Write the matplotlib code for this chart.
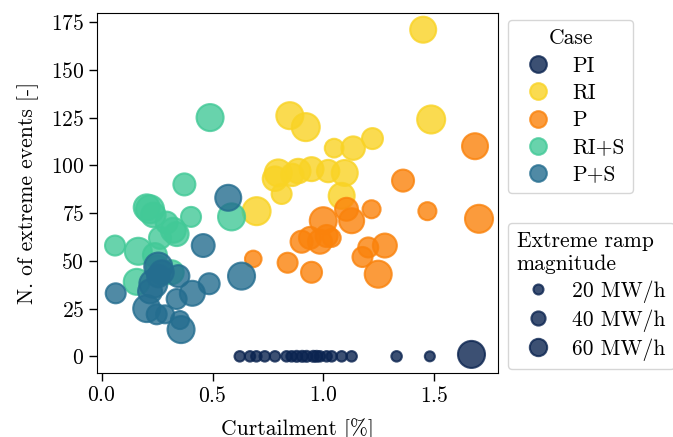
import matplotlib
matplotlib.use('Agg')
import matplotlib.pyplot as plt
from matplotlib.lines import Line2D
import numpy as np

plt.rcParams['font.family'] = 'serif'
plt.rcParams['font.serif'] = ['cmr10']
plt.rcParams['axes.formatter.use_mathtext'] = True
plt.rcParams['font.size'] = 15.5

# curtailment [%], number of extreme events [-], extreme ramp magnitude [MW/h]
pi_x = [0.623, 0.669, 0.698, 0.736, 0.782, 0.834, 0.857, 0.880, 0.905, 0.925,
        0.955, 0.970, 0.985, 1.015, 1.038, 1.083, 1.128, 1.331, 1.481, 1.669]
pi_y = [0, 0, 0, 0, 0, 0, 0, 0, 0, 0, 0, 0, 0, 0, 0, 0, 0, 0, 0, 1]
pi_m = [22, 22, 22, 22, 22, 22, 22, 24, 24, 24, 24, 24, 22, 22, 22, 22, 22, 22, 20, 146]

ri_x = [1.451, 1.487, 1.222, 1.135, 1.049, 0.921, 0.849, 0.797, 0.782, 0.887,
        0.947, 1.022, 1.097, 0.812, 1.083, 0.699, 0.860]
ri_y = [171, 124, 114, 109, 109, 120, 126, 96, 93, 97,
        98, 97, 96, 85, 84, 76, 95]
ri_m = [135, 157, 88, 110, 70, 157, 146, 146, 120, 120,
        115, 100, 135, 80, 135, 157, 100]

p_x = [1.685, 1.360, 1.703, 1.470, 1.218, 1.105, 1.128, 1.000, 1.015, 1.038,
       0.985, 0.940, 0.902, 1.278, 1.203, 1.177, 1.248, 0.947, 0.839, 0.684]
p_y = [110, 92, 72, 76, 77, 77, 71, 71, 63, 62,
       60, 62, 60, 58, 57, 52, 43, 44, 49, 51]
p_m = [135, 97, 157, 65, 65, 105, 125, 146, 97, 65,
       115, 97, 97, 115, 80, 80, 146, 88, 80, 55]

ris_x = [0.489, 0.373, 0.403, 0.586, 0.218, 0.203, 0.233, 0.293, 0.323, 0.263,
         0.338, 0.060, 0.165, 0.240, 0.158, 0.316, 0.250]
ris_y = [125, 90, 73, 73, 77, 78, 74, 70, 66, 62,
         64, 58, 55, 53, 39, 44, 47]
ris_m = [146, 97, 80, 146, 157, 135, 120, 97, 125, 97,
         115, 80, 146, 115, 135, 115, 100]

ps_x = [0.571, 0.458, 0.631, 0.063, 0.255, 0.271, 0.346, 0.485, 0.409, 0.233,
        0.218, 0.203, 0.338, 0.248, 0.286, 0.353, 0.358, 0.255]
ps_y = [83, 58, 42, 33, 47, 44, 42, 38, 33, 38,
        34, 25, 30, 22, 22, 19, 14, 42]
ps_m = [135, 105, 146, 80, 157, 115, 97, 88, 125, 157,
        115, 146, 80, 80, 65, 65, 146, 100]

cases = ['PI', 'RI', 'P', 'RI+S', 'P+S']
colors = ['#0b2450', '#f9d324', '#fa820b', '#42c997', '#246d8f']
legend_mags = [20, 40, 60]

data = [(pi_x, pi_y, pi_m), (ri_x, ri_y, ri_m), (p_x, p_y, p_m),
        (ris_x, ris_y, ris_m), (ps_x, ps_y, ps_m)]

ALPHA = 0.8


def mag_to_s(m):
    # marker area proportional to ramp magnitude
    d_px = 10 * np.sqrt(np.asarray(m) / 20)
    return (d_px * 0.72) ** 2


fig = plt.figure(figsize=(6.73, 4.37), dpi=100)
ax = fig.add_axes([0.1446, 0.147, 0.5958, 0.8226])

for (x, y, m), c in zip(data, colors):
    ax.scatter(x, y, s=mag_to_s(m), color=c, edgecolors=c, linewidths=1.5, alpha=ALPHA)

ax.set_xlim(-0.02, 1.79)
ax.set_ylim(-8.6, 179.6)
ax.set_xticks([0.0, 0.5, 1.0, 1.5])
ax.set_yticks([0, 25, 50, 75, 100, 125, 150, 175])
ax.set_xlabel('Curtailment [%]', labelpad=9)
ax.set_ylabel('N. of extreme events [-]', labelpad=8)
ax.tick_params(direction='out', length=6, width=1)

case_handles = [Line2D([], [], ls='', marker='o', markersize=12, color=c, mec=c,
                       mew=1.5, alpha=ALPHA) for c in colors]
leg1 = ax.legend(case_handles, cases, title='Case', loc='upper left',
                 bbox_to_anchor=(1.024, 0.981), borderaxespad=0,
                 labelspacing=0.36, handletextpad=0.6, borderpad=0.4,
                 handlelength=2.0)
ax.add_artist(leg1)

mag_handles = [Line2D([], [], ls='', marker='o',
                      markersize=np.sqrt(mag_to_s(m)), color=colors[0],
                      mec=colors[0], mew=1.5, alpha=ALPHA) for m in legend_mags]
leg2 = ax.legend(mag_handles, [f'{m} MW/h' for m in legend_mags],
                 title='Extreme ramp\nmagnitude', loc='upper left',
                 bbox_to_anchor=(1.024, 0.4165), borderaxespad=0,
                 labelspacing=0.3, handletextpad=0.6, borderpad=0.4,
                 handlelength=2.0, alignment='left')

fig.savefig('out.png', dpi=100)
